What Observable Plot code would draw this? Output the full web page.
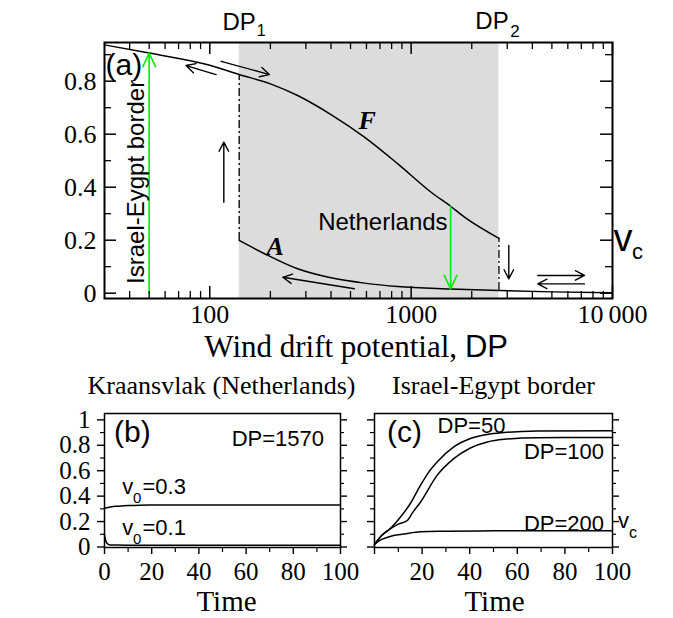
<!DOCTYPE html>
<html><head><meta charset="utf-8">
<script src="https://cdn.jsdelivr.net/npm/d3@7"></script>
<script src="https://cdn.jsdelivr.net/npm/@observablehq/plot@0.6"></script>
<style>
body{margin:0;background:#fff;}
#wrap{position:relative;width:673px;height:618px;overflow:hidden;background:#fff;}
#wrap svg{position:absolute;}
.ylab{position:absolute;left:25.5px;top:288px;transform:translate(-50%,-50%) rotate(-90deg);white-space:nowrap;font-size:31px;font-family:"Liberation Serif",serif;line-height:1;color:#000;}
.ylab span{font-family:"Liberation Sans",sans-serif;}
</style></head><body><div id="wrap"><div class="ylab">Vegetation cover, <span>v</span></div></div>
<script>
// ---------- data ----------
// panel (a): bifurcation diagram, vegetation cover vs wind drift potential
const DP_F = [30, 50, 100, 140, 200, 273, 400, 586, 859, 1257, 1570, 1841, 2730];
const vF   = [0.937, 0.906, 0.86, 0.825, 0.79, 0.746, 0.674, 0.589, 0.488, 0.381, 0.328, 0.287, 0.207];
const DP_A = [140, 187, 273, 400, 586, 859, 1570, 2730, 5000, 10000];
const vA   = [0.199, 0.149, 0.092, 0.058, 0.038, 0.025, 0.016, 0.010, 0.005, 0.002];
const DP1 = 140, DP2 = 2730;
const dpIsrael = 50, dpNether = 1570;
const xMajorA = [100, 1000, 10000];
const xMinorA = [40, 50, 60, 70, 80, 90, 200, 300, 400, 500, 600, 700, 800, 900, 2000, 3000, 4000, 5000, 6000, 7000, 8000, 9000];
const xTickLabelsA = ["100", "1000", "10\u2009000"];
const yMajorA = [0, 0.2, 0.4, 0.6, 0.8];
const yMinorA = [0.1, 0.3, 0.5, 0.7, 0.9];
const yTickLabelsA = ["0", "0.2", "0.4", "0.6", "0.8"];
const arrowsA = [
  {x1: 107.5, y1: 0.825, x2: 76.2, y2: 0.859},
  {x1: 113.8, y1: 0.875, x2: 197.7, y2: 0.825},
  {x1: 117.4, y1: 0.343, x2: 117.4, y2: 0.57},
  {x1: 3055, y1: 0.18, x2: 3055, y2: 0.054},
  {x1: 4256, y1: 0.067, x2: 7258, y2: 0.067},
  {x1: 7258, y1: 0.035, x2: 4256, y2: 0.035},
  {x1: 522, y1: 0.0166, x2: 230.5, y2: 0.060}
];
// panel (b): Kraansvlak (Netherlands), DP=1570
const tB03 = [0, 1, 2, 3, 5, 7, 10, 15, 20, 30, 50, 100];
const vB03 = [0.304, 0.309, 0.313, 0.316, 0.32, 0.323, 0.326, 0.329, 0.330, 0.331, 0.331, 0.331];
const tB01 = [0, 0.2, 0.4, 0.7, 1, 1.5, 2, 3, 5, 10, 100];
const vB01 = [0.1, 0.075, 0.057, 0.04, 0.03, 0.022, 0.018, 0.016, 0.015, 0.014, 0.014];
// panel (c): Israel-Egypt border
const tC50  = [0, 3, 6.6, 10, 15, 19.3, 22.8, 26.3, 33.3, 40.3, 47.4, 54.4, 68.4, 100];
const vC50  = [0.02, 0.09, 0.145, 0.215, 0.34, 0.484, 0.589, 0.668, 0.787, 0.853, 0.885, 0.90, 0.912, 0.915];
const tC100 = [0, 3, 6.6, 10, 13.7, 16, 19.3, 26.3, 33.3, 40.3, 47.4, 54.4, 68.4, 100];
const vC100 = [0.02, 0.09, 0.142, 0.18, 0.207, 0.27, 0.352, 0.563, 0.695, 0.779, 0.826, 0.847, 0.86, 0.862];
const tC200 = [0, 2, 5.2, 8, 12.3, 19.3, 30, 50, 100];
const vC200 = [0.02, 0.05, 0.075, 0.09, 0.102, 0.12, 0.124, 0.127, 0.128];
const xMajorBC = [0, 20, 40, 60, 80, 100];
const xMinorBC = [10, 30, 50, 70, 90];
const xLabelsB = [0, 20, 40, 60, 80, 100];
const xLabelsC = [20, 40, 60, 80, 100];
const yMajorBC = [0, 0.2, 0.4, 0.6, 0.8, 1];
const yMinorBC = [0.1, 0.3, 0.5, 0.7, 0.9];
const yTickLabelsB = ["0", "0.2", "0.4", "0.6", "0.8", "1"];

// ---------- helpers ----------
const SERIF = "Liberation Serif, Times New Roman, serif";
const SANS = "Liberation Sans, Arial, sans-serif";
const zip = (xs, ys) => xs.map((x, i) => ({x, y: ys[i]}));
const wrap = document.getElementById("wrap");
function place(svg, left, top) {
  svg.style.left = left + "px";
  svg.style.top = top + "px";
  wrap.appendChild(svg);
}
const lab = (txt, opts) => Plot.text([txt], {text: d => d, ...opts});

// ---------- panel (a) ----------
const WA = 673, HA = 364, mA = {top: 42, right: 61, bottom: 66, left: 104};
const fwA = WA - mA.left - mA.right, fhA = HA - mA.top - mA.bottom;
const F = zip(DP_F, vF), A = zip(DP_A, vA);
const vF_DP1 = vF[DP_F.indexOf(DP1)], vA_DP1 = vA[DP_A.indexOf(DP1)];
const vF_DP2 = vF[DP_F.indexOf(DP2)], vA_DP2 = vA[DP_A.indexOf(DP2)];
const dash = {stroke: "black", strokeWidth: 1.3, strokeDasharray: "8,3,2,3"};
const green = "#00f000";

const plotA = Plot.plot({
  width: WA, height: HA,
  marginTop: mA.top, marginRight: mA.right, marginBottom: mA.bottom, marginLeft: mA.left,
  x: {type: "log", domain: [30, 10000], axis: null},
  y: {domain: [-0.02, 0.946], axis: null},
  style: {fontFamily: SANS, background: "white", color: "black"},
  marks: [
    Plot.rect([{x1: DP1, x2: DP2}], {x1: "x1", x2: "x2", fill: "#dcdcdc"}),
    Plot.ruleX([DP1], {y1: vA_DP1, y2: vF_DP1, ...dash}),
    Plot.ruleX([DP2], {y1: vA_DP2, y2: vF_DP2, ...dash}),
    Plot.line(F, {x: "x", y: "y", curve: "monotone-x", strokeWidth: 1.5}),
    Plot.line(A, {x: "x", y: "y", curve: "monotone-x", strokeWidth: 1.5}),
    Plot.arrow(arrowsA, {x1: "x1", y1: "y1", x2: "x2", y2: "y2", headLength: 11, headAngle: 55, strokeWidth: 1.4}),
    Plot.arrow([{x: dpIsrael, y1: 0, y2: vF[DP_F.indexOf(dpIsrael)]}], {x: "x", y1: "y1", y2: "y2", stroke: green, strokeWidth: 1.6, headLength: 14, headAngle: 50}),
    Plot.arrow([{x: dpNether, y1: vF[DP_F.indexOf(dpNether)], y2: vA[DP_A.indexOf(dpNether)]}], {x: "x", y1: "y1", y2: "y2", stroke: green, strokeWidth: 1.6, headLength: 14, headAngle: 50}),
    // ticks (inward)
    Plot.ruleX(xMajorA, {insetTop: fhA - 12, strokeWidth: 1.5}),
    Plot.ruleX(xMinorA, {insetTop: fhA - 7, strokeWidth: 1.3}),
    Plot.ruleX(xMajorA, {insetBottom: fhA - 12, strokeWidth: 1.5}),
    Plot.ruleX(xMinorA, {insetBottom: fhA - 7, strokeWidth: 1.3}),
    Plot.ruleY(yMajorA, {insetRight: fwA - 12, strokeWidth: 1.5}),
    Plot.ruleY(yMinorA, {insetRight: fwA - 7, strokeWidth: 1.3}),
    Plot.ruleY(yMajorA, {insetLeft: fwA - 12, strokeWidth: 1.5}),
    Plot.ruleY(yMinorA, {insetLeft: fwA - 7, strokeWidth: 1.3}),
    Plot.frame({stroke: "black", strokeWidth: 2}),
    // tick labels
    Plot.text(xMajorA, {x: d => d, text: (d, i) => xTickLabelsA[i], frameAnchor: "bottom", dy: 24.5, lineAnchor: "bottom", fontSize: 26, fontFamily: SERIF}),
    Plot.text(yMajorA, {y: d => d, text: (d, i) => yTickLabelsA[i], frameAnchor: "left", dx: -8, textAnchor: "end", lineAnchor: "middle", fontSize: 26, fontFamily: SERIF}),
    // axis title
    lab("Wind drift potential,", {frameAnchor: "bottom", dx: 98.6, dy: 58.5, textAnchor: "end", lineAnchor: "bottom", fontSize: 31, fontFamily: SERIF}),
    lab("DP", {frameAnchor: "bottom", dx: 106.4, dy: 58.5, textAnchor: "start", lineAnchor: "bottom", fontSize: 31, fontFamily: SANS}),
    // DP1 / DP2
    Plot.text(["DP"], {x: () => DP1, text: d => d, frameAnchor: "top", dy: -13, lineAnchor: "bottom", fontSize: 24}),
    Plot.text(["1"], {x: () => DP1, text: d => d, frameAnchor: "top", dx: 22, dy: -7, lineAnchor: "bottom", fontSize: 16}),
    Plot.text(["DP"], {x: () => DP2, text: d => d, frameAnchor: "top", dx: -7, dy: -14, lineAnchor: "bottom", fontSize: 24}),
    Plot.text(["2"], {x: () => DP2, text: d => d, frameAnchor: "top", dx: 16, dy: -6, lineAnchor: "bottom", fontSize: 17}),
    // annotations
    lab("(a)", {frameAnchor: "top-left", dx: 1, dy: 32, textAnchor: "start", lineAnchor: "bottom", fontSize: 30}),
    Plot.text(["Israel-Eygpt border"], {x: () => dpIsrael, y: () => 0.42, text: d => d, dx: -13, rotate: -90, lineAnchor: "middle", fontSize: 24}),
    Plot.text(["F"], {x: () => 604, y: () => 0.652, text: d => d, fontSize: 26, fontFamily: SERIF, fontStyle: "italic", fontWeight: "bold"}),
    Plot.text(["A"], {x: () => 211, y: () => 0.176, text: d => d, fontSize: 26, fontFamily: SERIF, fontStyle: "italic", fontWeight: "bold"}),
    Plot.text(["Netherlands"], {x: () => dpNether, y: () => 0.266, text: d => d, dx: -3, textAnchor: "end", fontSize: 24}),
    lab("v", {frameAnchor: "top-right", dx: 1, dy: 208, textAnchor: "start", lineAnchor: "bottom", fontSize: 38}),
    lab("c", {frameAnchor: "top-right", dx: 19.5, dy: 216, textAnchor: "start", lineAnchor: "bottom", fontSize: 22})
  ]
});
place(plotA, 0, 0);

// ---------- panels (b) and (c) ----------
const HBC = 254, mBC = {top: 49, bottom: 71};
const fhBC = HBC - mBC.top - mBC.bottom;
function outwardTicks(fw, fh) {
  return [
    Plot.ruleX(xMajorBC, {insetTop: fh, insetBottom: -7, strokeWidth: 1.4}),
    Plot.ruleX(xMinorBC, {insetTop: fh, insetBottom: -5, strokeWidth: 1.2}),
    Plot.ruleY(yMajorBC, {insetRight: fw, insetLeft: -7, strokeWidth: 1.4}),
    Plot.ruleY(yMinorBC, {insetRight: fw, insetLeft: -4, strokeWidth: 1.2}),
    Plot.ruleY(yMajorBC, {insetLeft: fw, insetRight: -7, strokeWidth: 1.4}),
    Plot.ruleY(yMinorBC, {insetLeft: fw, insetRight: -4, strokeWidth: 1.2})
  ];
}

// (b)
const WB = 360, mB = {left: 104, right: 20};
const fwB = WB - mB.left - mB.right;
const plotB = Plot.plot({
  width: WB, height: HBC,
  marginTop: mBC.top, marginBottom: mBC.bottom, marginLeft: mB.left, marginRight: mB.right,
  x: {domain: [0, 100], axis: null},
  y: {domain: [-0.004, 1.05], axis: null},
  style: {fontFamily: SANS, background: "white", color: "black"},
  marks: [
    Plot.line(zip(tB03, vB03), {x: "x", y: "y", curve: "monotone-x", strokeWidth: 1.5}),
    Plot.line(zip(tB01, vB01), {x: "x", y: "y", curve: "monotone-x", strokeWidth: 1.5}),
    ...outwardTicks(fwB, fhBC),
    Plot.frame({stroke: "black", strokeWidth: 1.5}),
    Plot.text(xLabelsB, {x: d => d, text: d => String(d), frameAnchor: "bottom", dy: 32, lineAnchor: "bottom", fontSize: 25, fontFamily: SERIF}),
    Plot.text(yMajorBC, {y: d => d, text: (d, i) => yTickLabelsB[i], frameAnchor: "left", dx: -14, textAnchor: "end", lineAnchor: "middle", fontSize: 25, fontFamily: SERIF}),
    lab("Time", {frameAnchor: "bottom", dx: 4, dy: 63.5, lineAnchor: "bottom", fontSize: 29, fontFamily: SERIF}),
    lab("Kraansvlak (Netherlands)", {frameAnchor: "top", dx: -1, dy: -20, lineAnchor: "bottom", fontSize: 26, fontFamily: SERIF}),
    lab("(b)", {frameAnchor: "top-left", dx: 9.5, dy: 28, textAnchor: "start", lineAnchor: "bottom", fontSize: 30}),
    lab(`DP=${dpNether}`, {frameAnchor: "top-right", dx: -16.5, dy: 32, textAnchor: "end", lineAnchor: "bottom", fontSize: 22}),
    lab("v", {frameAnchor: "top-left", dx: 17.8, dy: 80, textAnchor: "start", lineAnchor: "bottom", fontSize: 22}),
    lab("0", {frameAnchor: "top-left", dx: 28.6, dy: 89.5, textAnchor: "start", lineAnchor: "bottom", fontSize: 15}),
    lab("=0.3", {frameAnchor: "top-left", dx: 38, dy: 80, textAnchor: "start", lineAnchor: "bottom", fontSize: 22}),
    lab("v", {frameAnchor: "top-left", dx: 17.8, dy: 121, textAnchor: "start", lineAnchor: "bottom", fontSize: 22}),
    lab("0", {frameAnchor: "top-left", dx: 28.6, dy: 130.5, textAnchor: "start", lineAnchor: "bottom", fontSize: 15}),
    lab("=0.1", {frameAnchor: "top-left", dx: 38, dy: 121, textAnchor: "start", lineAnchor: "bottom", fontSize: 22})
  ]
});
place(plotB, 0, 364);

// (c)
const WC = 313, mC = {left: 14, right: 61};
const fwC = WC - mC.left - mC.right;
const plotC = Plot.plot({
  width: WC, height: HBC,
  marginTop: mBC.top, marginBottom: mBC.bottom, marginLeft: mC.left, marginRight: mC.right,
  x: {domain: [0, 100], axis: null},
  y: {domain: [-0.004, 1.05], axis: null},
  style: {fontFamily: SANS, background: "white", color: "black"},
  marks: [
    Plot.line(zip(tC50, vC50), {x: "x", y: "y", curve: "monotone-x", strokeWidth: 1.5}),
    Plot.line(zip(tC100, vC100), {x: "x", y: "y", curve: "monotone-x", strokeWidth: 1.5}),
    Plot.line(zip(tC200, vC200), {x: "x", y: "y", curve: "monotone-x", strokeWidth: 1.5}),
    ...outwardTicks(fwC, fhBC),
    Plot.frame({stroke: "black", strokeWidth: 1.5}),
    Plot.text(xLabelsC, {x: d => d, text: d => String(d), frameAnchor: "bottom", dy: 32, lineAnchor: "bottom", fontSize: 25, fontFamily: SERIF}),
    lab("Time", {frameAnchor: "bottom", dx: 1, dy: 63.5, lineAnchor: "bottom", fontSize: 29, fontFamily: SERIF}),
    lab("Israel-Egypt border", {frameAnchor: "top", dy: -20, lineAnchor: "bottom", fontSize: 26, fontFamily: SERIF}),
    lab("(c)", {frameAnchor: "top-left", dx: 12.5, dy: 28.5, textAnchor: "start", lineAnchor: "bottom", fontSize: 30}),
    lab("DP=50", {frameAnchor: "top-left", dx: 63, dy: 19, textAnchor: "start", lineAnchor: "bottom", fontSize: 22}),
    lab("DP=100", {frameAnchor: "top-right", dx: -8.5, dy: 45, textAnchor: "end", lineAnchor: "bottom", fontSize: 22}),
    lab("DP=200", {frameAnchor: "top-right", dx: -8.5, dy: 117, textAnchor: "end", lineAnchor: "bottom", fontSize: 22}),
    lab("v", {frameAnchor: "top-right", dx: 5.5, dy: 114, textAnchor: "start", lineAnchor: "bottom", fontSize: 22}),
    lab("c", {frameAnchor: "top-right", dx: 16.5, dy: 124, textAnchor: "start", lineAnchor: "bottom", fontSize: 16})
  ]
});
place(plotC, 360, 364);
</script></body></html>
